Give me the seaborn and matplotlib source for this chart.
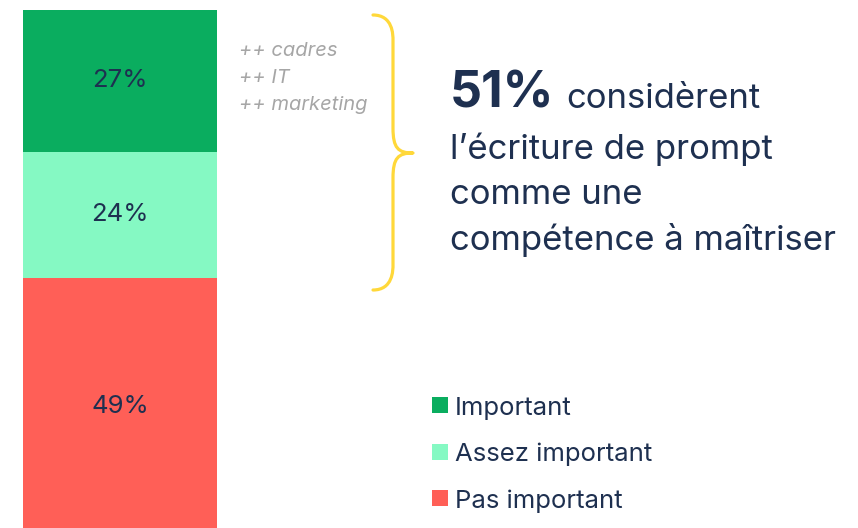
import numpy as np
import pandas as pd
import seaborn as sns
import matplotlib.pyplot as plt
from matplotlib.path import Path
from matplotlib.patches import PathPatch, Rectangle

categories = ["Important", "Assez important", "Pas important"]
values = [27, 24, 49]
colors = ["#0AAD5F", "#85F9C3", "#FF5F57"]
subgroups = ["++ cadres", "++ IT", "++ marketing"]
headline_value = "51%"
headline_rest = "considèrent"
headline_lines = ["l\u2019écriture de prompt", "comme une", "compétence à maîtriser"]

TEXT = "#1E3050"
GREY = "#A6A6A6"
YELLOW = "#FFD83A"

sns.set_theme(style="white")
plt.rcParams['font.family'] = ['Inter', 'DejaVu Sans']

W, H = 858, 528
fig = plt.figure(figsize=(W / 100, H / 100), dpi=100)
fig.patch.set_facecolor("white")


def fx(x):
    return x / W


def fy(y):
    return 1 - y / H


# ---- stacked bar (drawn as cumulative overlapping bars) ----
ax = fig.add_axes([fx(23), -7 / H, 194 / W, 525 / H])
cum = np.cumsum(values)
df = pd.DataFrame({"grp": ["all"] * len(categories), "cat": categories, "top": cum})
for _, row in df.iloc[::-1].iterrows():
    col = colors[categories.index(row["cat"])]
    sns.barplot(x=[row["grp"]], y=[row["top"]], color=col, width=1.0,
                saturation=1, linewidth=0, ax=ax)
ax.set_xlim(-0.5, 0.5)
ax.set_ylim(100, 0)
ax.axis("off")
for v, c in zip(values, cum):
    ax.text(0, c - v / 2, f"{v}%", ha="center", va="center",
            color=TEXT, fontsize=18.5)

# ---- sub-group notes ----
for i, s in enumerate(subgroups):
    fig.text(fx(239), fy(51 + i * 27), s, ha="left", va="center",
             color=GREY, fontsize=14.5, style="italic")

# ---- yellow brace ----
x0, xm, xt = 373, 393, 413
yt, ytip, yb = 15, 153, 290
pts = [
    (x0, yt), (xm, yt), (xm, yt + 20), (xm, yt + 25),
    (xm, ytip - 25),
    (xm, ytip - 5), (xm + 5, ytip), (xt, ytip),
    (xm + 5, ytip), (xm, ytip + 5), (xm, ytip + 25),
    (xm, yb - 25),
    (xm, yb - 20), (xm, yb), (x0, yb),
]
codes = [Path.MOVETO, Path.CURVE4, Path.CURVE4, Path.CURVE4,
         Path.LINETO,
         Path.CURVE4, Path.CURVE4, Path.CURVE4,
         Path.CURVE4, Path.CURVE4, Path.CURVE4,
         Path.LINETO,
         Path.CURVE4, Path.CURVE4, Path.CURVE4]
path = Path([(fx(a), fy(b)) for a, b in pts], codes)
fig.patches.append(PathPatch(path, facecolor="none", edgecolor=YELLOW,
                             linewidth=2.3, transform=fig.transFigure,
                             capstyle="round", joinstyle="round"))

# ---- headline ----
t = fig.text(fx(450), fy(108), headline_value, ha="left", va="baseline",
             color=TEXT, fontsize=36, fontweight="bold")
fig.canvas.draw()
bb = t.get_window_extent()
fig.text(bb.x1 / W + fx(12), fy(108), headline_rest, ha="left", va="baseline",
         color=TEXT, fontsize=25)
for i, line in enumerate(headline_lines):
    fig.text(fx(450), fy(159 + i * 45.5), line, ha="left", va="baseline",
             color=TEXT, fontsize=25)

# ---- legend ----
for i, (cat, col) in enumerate(zip(categories, colors)):
    yc = 406 + i * 46.5
    fig.patches.append(Rectangle((fx(432), fy(yc + 7)), 16 / W, 16 / H,
                                 facecolor=col, edgecolor="none",
                                 transform=fig.transFigure))
    fig.text(fx(455), fy(yc + 2), cat, ha="left", va="center",
             color=TEXT, fontsize=18.5)

fig.savefig("out.png", dpi=100)
